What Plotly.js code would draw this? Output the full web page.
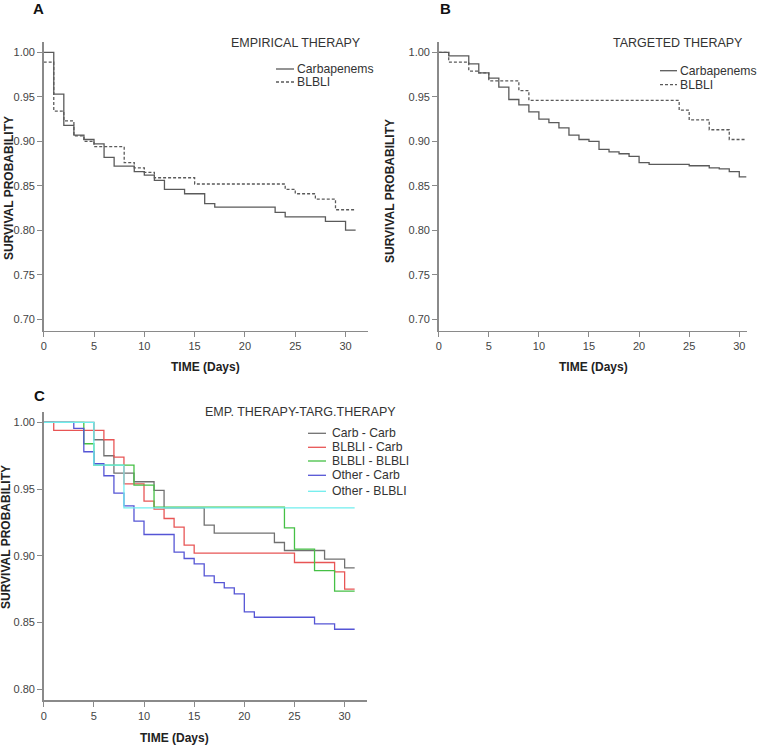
<!DOCTYPE html>
<html>
<head>
<meta charset="utf-8">
<script src="https://cdn.plot.ly/plotly-3.0.1.min.js"></script>
<style>html,body{margin:0;padding:0;background:#fff;}#chart{width:758px;height:745px;}</style>
</head>
<body>
<div id="chart"></div>
<script>
// ---- Panel A: empirical therapy ----
const A_carb_t = [0,1,2,3,4,5,6,7,9,10,11,12,14,16,17,23,24,28,30,31];
const A_carb_s = [1.000,0.953,0.918,0.907,0.902,0.897,0.882,0.872,0.866,0.862,0.856,0.846,0.841,0.830,0.826,0.820,0.815,0.810,0.800,0.800];
const A_blbli_t = [0,1,2,3,4,5,8,9,10,11,15,24,25,27,29,31];
const A_blbli_s = [0.989,0.934,0.923,0.906,0.900,0.894,0.876,0.870,0.865,0.859,0.852,0.846,0.841,0.835,0.823,0.823];

// ---- Panel B: targeted therapy ----
const B_carb_t = [0,1,3,4,5,6,7,8,9,10,11,12,13,14,15,16,17,18,19,20,21,25,27,28,29,30,30.7];
const B_carb_s = [1.000,0.996,0.987,0.977,0.971,0.961,0.947,0.941,0.933,0.925,0.921,0.915,0.907,0.902,0.900,0.891,0.888,0.886,0.883,0.876,0.874,0.8725,0.870,0.869,0.866,0.860,0.860];
const B_blbli_t = [0,1,3,4,5,8,9,24,25,27,29,30.7];
const B_blbli_s = [1.000,0.989,0.979,0.977,0.968,0.957,0.946,0.935,0.924,0.913,0.902,0.902];

// ---- Panel C: empirical - targeted combinations ----
const C_cc_t = [0,5,6,7,9,11,12,16,17,23,24,28,30,31];
const C_cc_s = [1.000,0.987,0.975,0.962,0.9555,0.949,0.936,0.923,0.917,0.910,0.904,0.8975,0.891,0.891];
const C_bc_t = [0,1,6,7,8,10,11,12,13,14,15,25,29,30,31];
const C_bc_s = [1.000,0.994,0.987,0.974,0.954,0.941,0.935,0.928,0.9215,0.908,0.902,0.895,0.888,0.875,0.875];
const C_bb_t = [0,4,5,9,11,24,25,27,29,31];
const C_bb_s = [1.000,0.984,0.968,0.953,0.9365,0.921,0.905,0.889,0.8735,0.8735];
const C_oc_t = [0,3,4,5,6,7,8,9,10,13,14,15,16,17,18,19,20,21,27,29,31];
const C_oc_s = [1.000,0.9955,0.978,0.969,0.960,0.947,0.9375,0.926,0.916,0.9028,0.898,0.894,0.885,0.880,0.876,0.8715,0.858,0.854,0.849,0.845,0.845];
const C_ob_t = [0,5,8,31];
const C_ob_s = [1.000,0.968,0.936,0.936];

const AB_names = ["Carbapenems","BLBLI"];
const C_names = ["Carb - Carb","BLBLI - Carb","BLBLI - BLBLI","Other - Carb","Other - BLBLI"];
const panel_titles = ["EMPIRICAL THERAPY","TARGETED THERAPY","EMP. THERAPY-TARG.THERAPY"];
const panel_letters = ["A","B","C"];
const x_title = "TIME (Days)";
const y_title = "SURVIVAL PROBABILITY";
const x_ticks = [0,5,10,15,20,25,30];
const yAB_ticks = [0.70,0.75,0.80,0.85,0.90,0.95,1.00];
const yC_ticks = [0.80,0.85,0.90,0.95,1.00];

const FONT = "Liberation Sans, Arial, sans-serif";
const W = 758, H = 745;
const px = v => v / W;
const py = v => 1 - v / H;

const grayAB = '#5a5a5a';
const AB_colors = [grayAB, grayAB];
const AB_dashes = ['solid', '3px,2px'];
const C_colors = ['#707070', '#e85555', '#45c045', '#5555d5', '#70eeee'];

function step(x, y, name, color, dash, xa, ya) {
  return {x: x, y: y, name: name, type: 'scatter', mode: 'lines',
    line: {shape: 'hv', color: color, width: 1.3, dash: dash},
    xaxis: xa, yaxis: ya, showlegend: false, hoverinfo: 'x+y+name'};
}

const data = [
  step(A_carb_t, A_carb_s, AB_names[0], AB_colors[0], AB_dashes[0], 'x', 'y'),
  step(A_blbli_t, A_blbli_s, AB_names[1], AB_colors[1], AB_dashes[1], 'x', 'y'),
  step(B_carb_t, B_carb_s, AB_names[0], AB_colors[0], AB_dashes[0], 'x2', 'y2'),
  step(B_blbli_t, B_blbli_s, AB_names[1], AB_colors[1], AB_dashes[1], 'x2', 'y2'),
  step(C_cc_t, C_cc_s, C_names[0], C_colors[0], 'solid', 'x3', 'y3'),
  step(C_bc_t, C_bc_s, C_names[1], C_colors[1], 'solid', 'x3', 'y3'),
  step(C_bb_t, C_bb_s, C_names[2], C_colors[2], 'solid', 'x3', 'y3'),
  step(C_oc_t, C_oc_s, C_names[3], C_colors[3], 'solid', 'x3', 'y3'),
  step(C_ob_t, C_ob_s, C_names[4], C_colors[4], 'solid', 'x3', 'y3')
];

function xax(domain, range, anchor) {
  return {domain: domain, range: range, anchor: anchor, tickvals: x_ticks,
    showline: true, linecolor: '#8a8a8a', linewidth: 1.5, ticks: 'outside', ticklen: 5,
    tickcolor: '#8a8a8a', tickwidth: 1, showgrid: false, zeroline: false,
    tickfont: {family: FONT, size: 11, color: '#444'}};
}
function yax(domain, range, anchor, ticks) {
  return {domain: domain, range: range, anchor: anchor, tickvals: ticks, tickformat: '.2f',
    showline: true, linecolor: '#8a8a8a', linewidth: 1.5, ticks: 'outside', ticklen: 5,
    tickcolor: '#8a8a8a', tickwidth: 1, showgrid: false, zeroline: false,
    tickfont: {family: FONT, size: 11, color: '#444'}};
}

const topAB = py(41.7), botAB = py(330.7);
const topC = py(411.7), botC = py(700);

function ann(text, x, y, opts) {
  return Object.assign({text: text, x: x, y: y, xref: 'paper', yref: 'paper',
    showarrow: false, xanchor: 'center', yanchor: 'middle',
    font: {family: FONT, size: 12.5, color: '#333'}}, opts || {});
}
const boldTitle = {family: FONT, size: 12, color: '#222', weight: 'bold'};
const letterFont = {family: FONT, size: 15, color: '#111', weight: 'bold'};
const legFont = {family: FONT, size: 12.2, color: '#333'};

const annotations = [
  ann('<b>' + panel_letters[0] + '</b>', px(38), py(8), {font: letterFont}),
  ann('<b>' + panel_letters[1] + '</b>', px(445), py(8), {font: letterFont}),
  ann('<b>' + panel_letters[2] + '</b>', px(39), py(395), {font: letterFont}),
  ann(panel_titles[0], px(296), py(43)),
  ann(panel_titles[1], px(678), py(43)),
  ann(panel_titles[2], px(202.7), py(411.7), {xanchor: 'left'}),
  ann('<b>' + x_title + '</b>', px(205.7), py(367), {font: boldTitle}),
  ann('<b>' + x_title + '</b>', px(593), py(367), {font: boldTitle}),
  ann('<b>' + x_title + '</b>', px(174), py(737.5), {font: boldTitle}),
  ann('<b>' + y_title + '</b>', px(9), py(188), {font: boldTitle, textangle: -90}),
  ann('<b>' + y_title + '</b>', px(390), py(191), {font: boldTitle, textangle: -90}),
  ann('<b>' + y_title + '</b>', px(6), py(537), {font: boldTitle, textangle: -90})
];

// compact legends (sample line + label) to match the reference's tight spacing
const shapes = [];
function addLegend(names, colors, dashes, sx0, sx1, tx, ys) {
  names.forEach((n, i) => {
    shapes.push({type: 'line', xref: 'paper', yref: 'paper',
      x0: px(sx0), x1: px(sx1), y0: py(ys[i]), y1: py(ys[i]),
      line: {color: colors[i], width: 1.3, dash: dashes[i]}});
    annotations.push(ann(n, px(tx), py(ys[i]), {xanchor: 'left', font: legFont}));
  });
}
addLegend(AB_names, AB_colors, AB_dashes, 276, 294, 295, [69, 82]);
addLegend(AB_names, AB_colors, AB_dashes, 660, 677, 678, [70.7, 84.7]);
addLegend(C_names, C_colors, C_names.map(() => 'solid'), 308, 326, 330, [433.3, 447.3, 461, 475.3, 491.3]);

const layout = {
  width: W, height: H,
  margin: {l: 0, r: 0, t: 0, b: 0},
  paper_bgcolor: '#fff', plot_bgcolor: '#fff',
  font: {family: FONT, color: '#333'},
  xaxis: xax([px(43.7), px(367.7)], [0, 32.2], 'y'),
  yaxis: yax([botAB, topAB], [0.687, 1.012], 'x', yAB_ticks),
  xaxis2: xax([px(438.7), px(747.3)], [0, 30.8], 'y2'),
  yaxis2: yax([botAB, topAB], [0.687, 1.012], 'x2', yAB_ticks),
  xaxis3: xax([px(43.7), px(366.7)], [0, 32.2], 'y3'),
  yaxis3: yax([botC, topC], [0.792, 1.008], 'x3', yC_ticks),
  annotations: annotations,
  shapes: shapes,
  showlegend: false
};

Plotly.newPlot('chart', data, layout, {displayModeBar: false, staticPlot: true});
</script>
</body>
</html>
